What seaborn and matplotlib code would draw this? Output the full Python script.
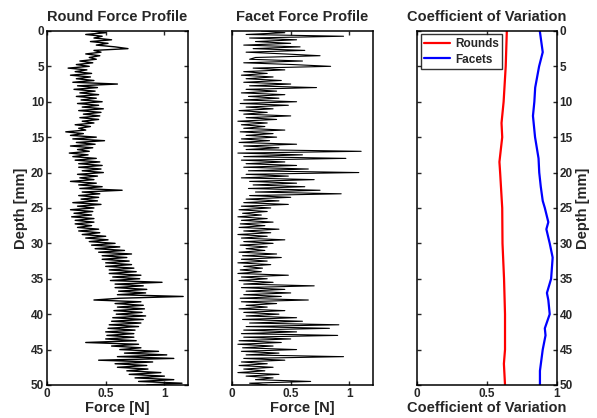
import numpy as np
import pandas as pd
import seaborn as sns
import matplotlib
matplotlib.use("Agg")
import matplotlib.pyplot as plt

# ==========================================================
# Data
# ==========================================================
depth_step = 0.25  # mm between force samples

round_force = [
    0.38, 0.50, 0.33, 0.47, 0.40, 0.55, 0.37, 0.52,
    0.42, 0.58, 0.69, 0.40, 0.46, 0.33, 0.45, 0.36,
    0.42, 0.28, 0.39, 0.25, 0.36, 0.18, 0.34, 0.24,
    0.38, 0.20, 0.37, 0.25, 0.40, 0.22, 0.60, 0.26,
    0.43, 0.23, 0.41, 0.28, 0.44, 0.25, 0.42, 0.29,
    0.47, 0.26, 0.44, 0.30, 0.48, 0.27, 0.46, 0.31,
    0.45, 0.28, 0.44, 0.30, 0.40, 0.24, 0.37, 0.27,
    0.33, 0.16, 0.31, 0.20, 0.42, 0.22, 0.49, 0.25,
    0.41, 0.20, 0.39, 0.26, 0.36, 0.19, 0.35, 0.22,
    0.42, 0.24, 0.45, 0.27, 0.47, 0.27, 0.46, 0.30,
    0.48, 0.26, 0.43, 0.28, 0.40, 0.20, 0.42, 0.27,
    0.47, 0.28, 0.64, 0.30, 0.45, 0.27, 0.44, 0.29,
    0.43, 0.22, 0.46, 0.26, 0.40, 0.20, 0.39, 0.23,
    0.38, 0.21, 0.40, 0.24, 0.40, 0.24, 0.38, 0.26,
    0.44, 0.27, 0.45, 0.30, 0.50, 0.33, 0.52, 0.36,
    0.58, 0.38, 0.62, 0.41, 0.66, 0.44, 0.72, 0.47,
    0.68, 0.47, 0.70, 0.50, 0.72, 0.50, 0.74, 0.53,
    0.76, 0.53, 0.80, 0.56, 0.79, 0.54, 0.98, 0.58,
    0.82, 0.58, 0.85, 0.61, 0.84, 0.60, 1.16, 0.62,
    0.40, 0.80, 0.58, 0.82, 0.60, 0.83, 0.57, 0.81,
    0.59, 0.84, 0.56, 0.82, 0.55, 0.80, 0.53, 0.78,
    0.52, 0.75, 0.50, 0.74, 0.51, 0.74, 0.50, 0.76,
    0.33, 0.78, 0.55, 0.80, 0.62, 0.95, 0.66, 1.02,
    0.60, 1.08, 0.44, 0.90, 0.58, 0.85, 0.60, 0.86,
    0.68, 0.97, 0.70, 1.00, 0.75, 1.08, 0.78, 1.15,
    0.85,
]

facet_force = [
    0.25, 0.45, 0.12, 0.95, 0.15, 0.55, 0.20, 0.50,
    0.10, 0.58, 0.18, 0.62, 0.12, 0.45, 0.75, 0.20,
    0.15, 0.60, 0.10, 0.52, 0.84, 0.18, 0.45, 0.10,
    0.30, 0.08, 0.35, 0.12, 0.42, 0.10, 0.50, 0.15,
    0.72, 0.12, 0.38, 0.08, 0.45, 0.14, 0.40, 0.10,
    0.55, 0.07, 0.48, 0.12, 0.35, 0.06, 0.30, 0.10,
    0.50, 0.12, 0.38, 0.05, 0.30, 0.08, 0.28, 0.10,
    0.45, 0.07, 0.35, 0.12, 0.38, 0.08, 0.32, 0.06,
    0.55, 0.10, 0.40, 0.12, 1.10, 0.05, 0.60, 0.10,
    0.97, 0.08, 0.45, 0.12, 0.55, 0.10, 0.65, 0.14,
    1.08, 0.12, 0.48, 0.08, 0.70, 0.15, 0.55, 0.18,
    0.62, 0.14, 0.75, 0.20, 0.93, 0.15, 0.50, 0.12,
    0.40, 0.10, 0.48, 0.08, 0.33, 0.06, 0.30, 0.09,
    0.25, 0.05, 0.30, 0.08, 0.35, 0.07, 0.28, 0.06,
    0.40, 0.10, 0.33, 0.05, 0.30, 0.08, 0.45, 0.10,
    0.35, 0.07, 0.30, 0.12, 0.28, 0.06, 0.38, 0.09,
    0.42, 0.08, 0.30, 0.05, 0.33, 0.10, 0.26, 0.07,
    0.25, 0.05, 0.48, 0.08, 0.30, 0.06, 0.35, 0.10,
    0.70, 0.08, 0.45, 0.12, 0.50, 0.10, 0.42, 0.07,
    0.65, 0.08, 0.38, 0.12, 0.30, 0.06, 0.45, 0.10,
    0.40, 0.12, 0.55, 0.09, 0.60, 0.15, 0.91, 0.12,
    0.83, 0.10, 0.55, 0.08, 0.90, 0.10, 0.50, 0.06,
    0.42, 0.05, 0.35, 0.09, 0.55, 0.08, 0.40, 0.12,
    0.95, 0.10, 0.45, 0.08, 0.30, 0.06, 0.35, 0.10,
    0.28, 0.05, 0.40, 0.12, 0.35, 0.20, 0.67, 0.15,
    0.30,
]

cv_round_depth = [0, 5, 10, 13, 15, 18.5, 20, 25, 30, 35, 40, 45, 47, 50]
cv_round = [0.643, 0.635, 0.62, 0.605, 0.61, 0.59, 0.595, 0.61, 0.612,
            0.623, 0.63, 0.63, 0.622, 0.63]

cv_facet_depth = [0, 3, 5, 8, 10, 12, 15, 18, 20, 22, 24, 25, 27, 28, 30,
                  32, 35, 37, 38, 40, 42, 43, 45, 48, 50]
cv_facet = [0.879, 0.9, 0.874, 0.846, 0.84, 0.83, 0.845, 0.87, 0.875, 0.886,
            0.9, 0.915, 0.94, 0.926, 0.95, 0.971, 0.96, 0.93, 0.94, 0.95,
            0.915, 0.92, 0.9, 0.88, 0.88]

depth_ticks = [0, 5, 10, 15, 20, 25, 30, 35, 40, 45, 50]

# ==========================================================
# Style
# ==========================================================
sns.set_style("white")
plt.rcParams['font.family'] = ['Liberation Sans', 'DejaVu Sans']
plt.rcParams['font.weight'] = 'bold'
plt.rcParams['axes.labelweight'] = 'bold'
plt.rcParams['axes.titleweight'] = 'bold'

fig = plt.figure(figsize=(5.97, 4.18), dpi=100)
ax1 = fig.add_axes([0.0787, 0.079, 0.236, 0.847])
ax2 = fig.add_axes([0.3886, 0.079, 0.236, 0.847])
ax3 = fig.add_axes([0.6985, 0.079, 0.234, 0.847])

round_depth = np.arange(len(round_force)) * depth_step
facet_depth = np.arange(len(facet_force)) * depth_step

sns.lineplot(x=round_force, y=round_depth, orient="y", sort=False,
             estimator=None, color="black", lw=1.0, ax=ax1)
sns.lineplot(x=facet_force, y=facet_depth, orient="y", sort=False,
             estimator=None, color="black", lw=0.8, ax=ax2)
sns.lineplot(x=cv_round, y=cv_round_depth, orient="y", sort=False,
             estimator=None, color="red", lw=1.6, ax=ax3, label="Rounds")
sns.lineplot(x=cv_facet, y=cv_facet_depth, orient="y", sort=False,
             estimator=None, color="blue", lw=1.6, ax=ax3, label="Facets")

for ax in (ax1, ax2, ax3):
    ax.set_ylim(50, 0)
    for s in ax.spines.values():
        s.set_linewidth(1.1)
        s.set_color("black")
    ax.tick_params(direction="in", length=3, width=1.0, labelsize=8.5,
                   top=True, right=True, left=True, bottom=True, pad=2)

ax1.set_xlim(0, 1.2)
ax2.set_xlim(0, 1.2)
ax3.set_xlim(0, 1)
for ax in (ax1, ax2, ax3):
    ax.set_xticks([0, 0.5, 1])
    ax.set_xticklabels(["0", "0.5", "1"], fontweight="bold")

ax1.set_yticks(depth_ticks)
ax1.set_yticklabels([str(t) for t in depth_ticks], fontweight="bold")
ax1.set_ylabel("Depth [mm]", fontsize=10.5, labelpad=2)
ax1.set_xlabel("Force [N]", fontsize=10.5, labelpad=1)
ax1.set_title("Round Force Profile", fontsize=10.5, pad=7.5)

ax2.set_yticks([])
ax2.set_ylabel("")
ax2.set_xlabel("Force [N]", fontsize=10.5, labelpad=1)
ax2.set_title("Facet Force Profile", fontsize=10.5, pad=7.5)

ax3.set_yticks(depth_ticks)
ax3.yaxis.tick_right()
ax3.yaxis.set_label_position("right")
ax3.tick_params(axis="y", left=True, right=True, labelleft=False, labelright=True)
ax3.set_yticklabels([str(t) for t in depth_ticks], fontweight="bold")
ax3.set_ylabel("Depth [mm]", fontsize=10.5, labelpad=2)
ax3.set_xlabel("Coefficient of Variation", fontsize=10.5, labelpad=1)
ax3.set_title("Coefficient of Variation", fontsize=10.5, pad=7.5)

leg = ax3.legend(loc="upper left", fontsize=8.5, frameon=True, fancybox=False,
                 edgecolor="black", borderpad=0.3, handlelength=2.2,
                 handletextpad=0.4, labelspacing=0.3, borderaxespad=0.3)
leg.get_frame().set_linewidth(1.0)
for t in leg.get_texts():
    t.set_fontweight("bold")

fig.savefig("out.png", dpi=100)
